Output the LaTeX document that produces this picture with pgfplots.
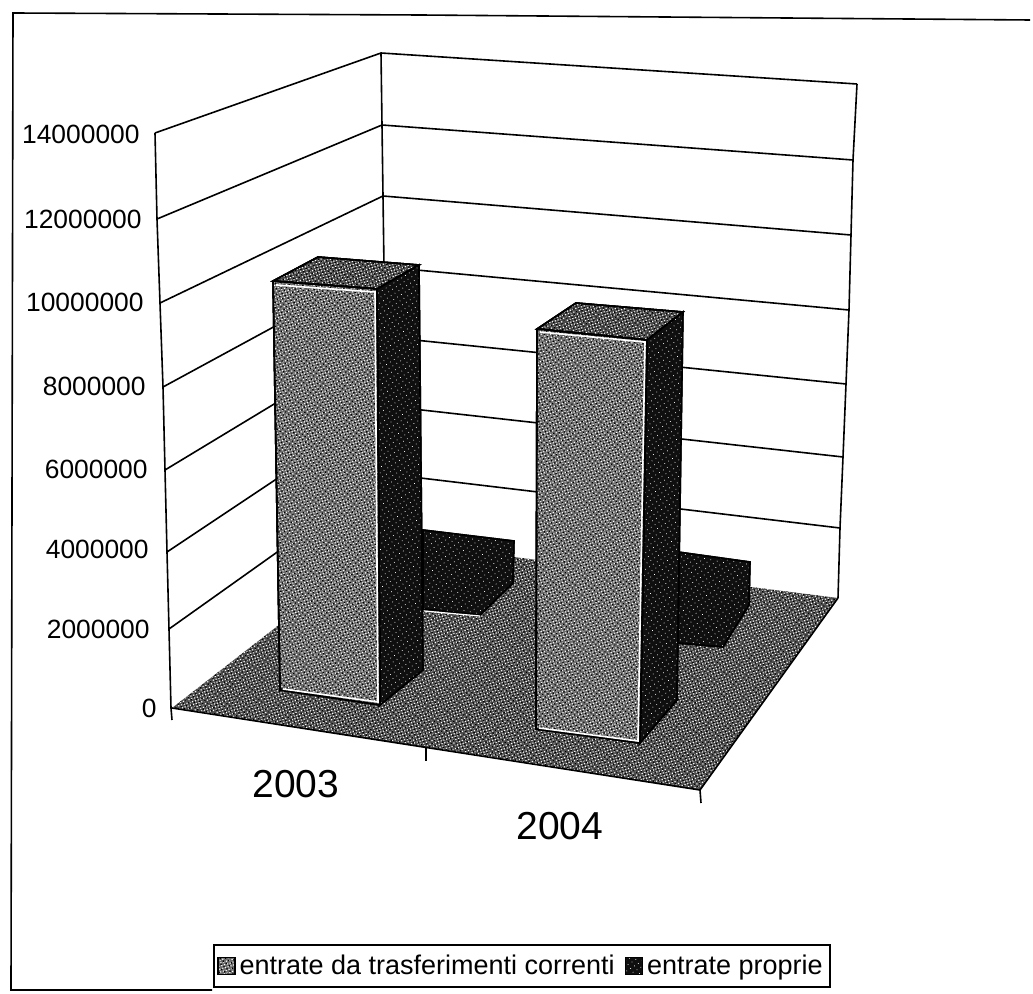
\documentclass[border=0pt]{standalone}
\usepackage{pgfplots}
\pgfplotsset{compat=1.18}
\usepackage{fontspec}
\setmainfont{Liberation Sans}
\usetikzlibrary{patterns.meta}
\newcommand{\tickf}{\fontsize{13.2pt}{15pt}\selectfont}
\newcommand{\legf}{\fontsize{13.5pt}{15pt}\selectfont}
\newcommand{\yearf}{\fontsize{19.5pt}{22pt}\selectfont}
\tikzset{
  grainA/.style={pattern={Dots[distance=1.45pt,radius=0.4pt,angle=17]},pattern color=white},
  grainB/.style={pattern={Dots[distance=1.9pt,radius=0.48pt,angle=52]},pattern color=black},
  midface/.style={fill=gray!85!black,postaction={grainA},postaction={grainB},draw=black,line width=0.8pt},
  floorface/.style={fill=gray!60!black,postaction={grainA},postaction={grainB},draw=none},
  topface/.style={fill=black!72,postaction={grainA},postaction={grainB},draw=black,line width=0.8pt},
  sideface/.style={fill=black!94,postaction={pattern={Dots[distance=2.3pt,radius=0.26pt,angle=33]},pattern color=white},draw=black,line width=0.8pt},
  gl/.style={black,line width=0.8pt},
  lab/.style={anchor=east,font=\tickf,inner sep=0pt},
}
\pgfplotsset{swatch/.style={legend image code/.code={
  \path[##1] (0pt,-4.2pt) rectangle (8.4pt,4.2pt);}}}
\begin{document}
\begin{tikzpicture}
\begin{axis}[
  width=516.5pt,height=497pt,scale only axis,
  xmin=0,xmax=1033,ymin=0,ymax=994,y dir=reverse,
  hide axis,clip=false,
  legend columns=2,
  legend cell align=left,
  legend style={at={(axis cs:522,966)},anchor=center,draw=black,line width=0.8pt,
    font=\legf,inner xsep=1.5pt,inner ysep=2.8pt,
    /tikz/every even column/.append style={column sep=3pt}},
]
% page extent
\path (axis cs:0,0) rectangle (axis cs:1033,994);
% outer frame
\addplot[gl,forget plot] coordinates {(1030,20)(420,15)(13,13)(11,990)(212,990)};
% walls: vertical edges
\addplot[gl,forget plot] coordinates {(172,720)(171,708)(169,629)(167,552)(165,470)(163,387)(160,303)(157,219)(155,133)};
\addplot[gl,forget plot] coordinates {(381,53)(382,125)(383,196)(384,267)(385,337)(386,406)(387,474)(387,541)};
\addplot[gl,forget plot] coordinates {(857,84)(853,160)(851,235)(849,310)(846,384)(843,457)(840,528)(838,598)};
% gridlines 14M ... 2M
\addplot[gl,forget plot] coordinates {(155,133)(381,53)(857,84)};
\addplot[gl,forget plot] coordinates {(157,219)(382,125)(853,160)};
\addplot[gl,forget plot] coordinates {(160,303)(383,196)(851,235)};
\addplot[gl,forget plot] coordinates {(163,387)(384,267)(849,310)};
\addplot[gl,forget plot] coordinates {(165,470)(385,337)(846,384)};
\addplot[gl,forget plot] coordinates {(167,552)(386,406)(843,457)};
\addplot[gl,forget plot] coordinates {(169,629)(387,474)(840,528)};
% floor
\addplot[floorface,forget plot] coordinates {(172,708)(387,541)(838,598)(700,790)} --cycle;
\addplot[gl,forget plot] coordinates {(172,708)(700,790)(838,598)};
% category ticks
\addplot[gl,forget plot] coordinates {(426,748)(426,761)};
\addplot[gl,forget plot] coordinates {(700,790)(701,803)};
% entrate proprie 2003
\addplot[sideface,forget plot] coordinates {(423,530)(514,541)(513,583)(480,615)(423,609)} --cycle;
\addplot[white,line width=0.6pt,forget plot] coordinates {(424,611)(480,616)};
% entrate proprie 2004
\addplot[sideface,forget plot] coordinates {(678,552)(750,562)(749,605)(723,647)(677,643)} --cycle;
% trasferimenti 2003
\addplot[topface,forget plot] coordinates {(273,281)(318,257)(419,265)(377,289)} --cycle;
\addplot[sideface,forget plot] coordinates {(377,289)(419,265)(423,670)(380,705)} --cycle;
\addplot[midface,forget plot] coordinates {(273,281)(377,289)(380,705)(280,690)} --cycle;
\addplot[white,line width=0.8pt,forget plot] coordinates {(276,285)(375,292)(378,702)(283,689)};
% trasferimenti 2004
\addplot[topface,forget plot] coordinates {(537,329)(576,303)(683,312)(647,340)} --cycle;
\addplot[sideface,forget plot] coordinates {(647,340)(683,312)(677,700)(640,743)} --cycle;
\addplot[midface,forget plot] coordinates {(537,329)(647,340)(640,743)(536,729)} --cycle;
\addplot[white,line width=0.8pt,forget plot] coordinates {(540,332)(645,342)(638,741)(539,728)};
% legend keys
\addplot[midface,swatch] coordinates {(522,966)(522,966)};
\addlegendentry{entrate da trasferimenti correnti}
\addplot[sideface,swatch] coordinates {(522,966)(522,966)};
\addlegendentry{entrate proprie}
% value axis labels
\node[lab] at (axis cs:140,134) {14000000};
\node[lab] at (axis cs:142,219) {12000000};
\node[lab] at (axis cs:144,302) {10000000};
\node[lab] at (axis cs:146,386) {8000000};
\node[lab] at (axis cs:148,469) {6000000};
\node[lab] at (axis cs:149,549) {4000000};
\node[lab] at (axis cs:150,629) {2000000};
\node[lab] at (axis cs:157,708) {0};
\node[font=\yearf] at (axis cs:296,784) {2003};
\node[font=\yearf] at (axis cs:560,826) {2004};
\end{axis}
\end{tikzpicture}
\end{document}
